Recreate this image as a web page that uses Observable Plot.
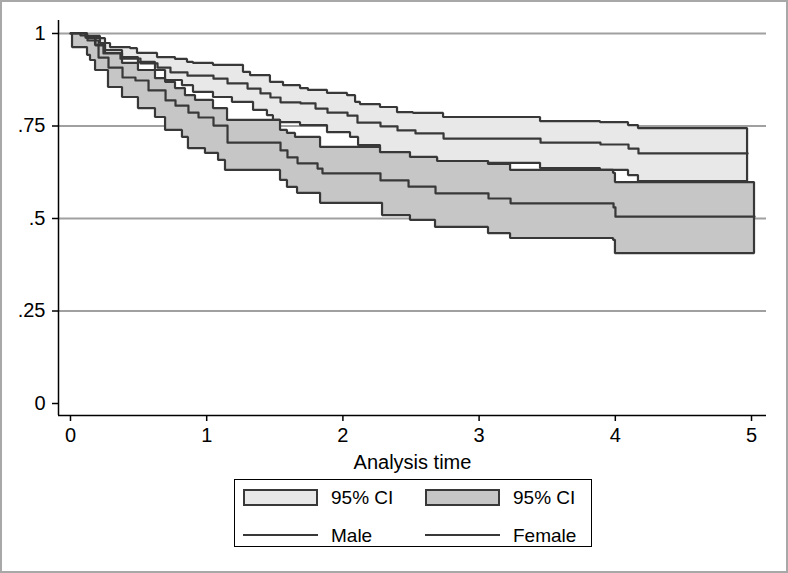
<!DOCTYPE html>
<html><head><meta charset="utf-8">
<script src="https://cdn.jsdelivr.net/npm/d3@7"></script>
<script src="https://cdn.jsdelivr.net/npm/@observablehq/plot@0.6"></script>
<style>
html,body{margin:0;padding:0;background:#fff;}
#wrap{position:relative;width:788px;height:573px;overflow:hidden;font-family:"Liberation Sans",Arial,sans-serif;background:#fff;color:#000;}
#chart{position:absolute;left:0;top:0;}
#border{position:absolute;left:0;top:0;width:788px;height:573px;box-sizing:border-box;border:2px solid #a8a8a8;pointer-events:none;}
#legend{position:absolute;left:234px;top:479px;width:358px;height:68px;box-sizing:border-box;border:1px solid #000;background:#fff;}
.sw{position:absolute;width:75px;height:17px;box-sizing:border-box;border:2px solid #383838;}
.ln{position:absolute;width:75px;height:2px;background:#383838;}
.lt{position:absolute;font-size:19px;line-height:19px;white-space:nowrap;}
</style></head>
<body>
<div id="wrap"><div id="chart"></div><div id="legend"></div><div id="border"></div></div>
<script>
// ---- Data ----
const xTicks = [0, 1, 2, 3, 4, 5];
const xTickLabels = ["0", "1", "2", "3", "4", "5"];
const yTicks = [0, 0.25, 0.5, 0.75, 1];
const yTickLabels = ["0", ".25", ".5", ".75", "1"];
const gridY = [0.25, 0.5, 0.75, 1];

// Male
const maleUpperT = [0,0.110,0.220,0.294,0.441,0.492,0.639,0.771,0.859,0.903,1.050,1.270,1.322,1.468,1.564,1.689,1.747,1.887,2.034,2.093,2.129,2.276,2.401,2.518,2.739,3.451,3.891,4.097,4.170,4.971];
const maleUpper  = [1,0.992,0.973,0.962,0.959,0.946,0.935,0.930,0.922,0.919,0.914,0.895,0.886,0.868,0.859,0.851,0.846,0.838,0.832,0.814,0.808,0.800,0.786,0.784,0.773,0.762,0.759,0.751,0.743,0.743];
const maleEstT = [0,0.110,0.184,0.242,0.367,0.514,0.639,0.734,0.859,1.050,1.153,1.300,1.395,1.468,1.542,1.689,1.799,1.887,2.034,2.107,2.276,2.401,2.533,2.739,3.451,3.891,4.097,4.170,4.971];
const maleEst  = [1,0.989,0.968,0.946,0.932,0.919,0.908,0.895,0.886,0.878,0.865,0.851,0.838,0.827,0.814,0.811,0.797,0.786,0.778,0.759,0.749,0.738,0.730,0.716,0.705,0.700,0.689,0.676,0.676];
const maleLowerT = [0,0.073,0.125,0.257,0.382,0.499,0.624,0.698,0.822,0.903,1.050,1.189,1.344,1.446,1.490,1.542,1.689,1.887,2.056,2.115,2.276,2.496,2.695,3.069,3.451,3.891,4.097,4.170,4.971];
const maleLower  = [1,0.995,0.986,0.954,0.935,0.922,0.900,0.873,0.859,0.841,0.827,0.814,0.792,0.778,0.765,0.759,0.751,0.732,0.719,0.697,0.678,0.662,0.654,0.649,0.635,0.630,0.616,0.600,0.600];

// Female
const femaleUpperT = [0,0.125,0.184,0.257,0.382,0.499,0.624,0.698,0.771,0.844,0.918,1.050,1.153,1.542,1.593,1.652,1.836,2.276,2.496,2.695,3.069,3.231,3.987,4.001,5.022];
const femaleUpper  = [1,0.986,0.968,0.946,0.919,0.900,0.878,0.868,0.851,0.832,0.819,0.797,0.765,0.738,0.730,0.719,0.692,0.678,0.665,0.654,0.646,0.630,0.622,0.597,0.597];
const femaleEstT = [0,0.073,0.125,0.206,0.279,0.382,0.477,0.573,0.698,0.771,0.866,0.940,1.050,1.153,1.542,1.593,1.667,1.814,1.850,2.276,2.482,2.680,3.069,3.231,3.987,4.001,5.022];
const femaleEst  = [1,0.995,0.981,0.935,0.908,0.881,0.873,0.846,0.819,0.805,0.786,0.773,0.751,0.705,0.684,0.665,0.649,0.635,0.622,0.603,0.586,0.568,0.554,0.541,0.530,0.505,0.505];
const femaleLowerT = [0,0.015,0.125,0.147,0.184,0.279,0.382,0.499,0.624,0.698,0.822,0.866,0.991,1.087,1.138,1.542,1.593,1.667,1.836,2.291,2.496,2.680,3.069,3.231,3.987,4.001,5.022];
const femaleLower  = [1,0.962,0.941,0.927,0.900,0.854,0.827,0.797,0.773,0.738,0.719,0.689,0.676,0.657,0.630,0.603,0.584,0.568,0.541,0.508,0.495,0.476,0.459,0.446,0.441,0.405,0.405];

const xLabel = "Analysis time";
const legendLabels = ["95% CI", "95% CI", "Male", "Female"];

// ---- helpers ----
function valAt(T, V, t) { let v = V[0]; for (let i = 0; i < T.length; i++) if (T[i] <= t + 1e-9) v = V[i]; return v; }
function band(loT, lo, hiT, hi) {
  const ts = Array.from(new Set([...loT, ...hiT])).sort((a, b) => a - b);
  return ts.map(t => ({t, lo: valAt(loT, lo, t), hi: valAt(hiT, hi, t)}));
}
const rows = (T, V) => T.map((t, i) => ({t, s: V[i]}));

const maleBand = band(maleLowerT, maleLower, maleUpperT, maleUpper);
const femaleBand = band(femaleLowerT, femaleLower, femaleUpperT, femaleUpper);

const xDom = [-0.088, 5.11];
const yDom = [-0.0324, 1.0351];
const lineColor = "#383838";
const lw = 2.2;

const chart = Plot.plot({
  width: 788, height: 475,
  marginLeft: 58, marginRight: 22, marginTop: 20, marginBottom: 60,
  x: {domain: xDom},
  y: {domain: yDom},
  style: {fontFamily: '"Liberation Sans", Arial, sans-serif', fontSize: "20px", color: "#000", background: "transparent"},
  marks: [
    Plot.ruleY(gridY, {stroke: "#a0a0a0", strokeWidth: 2}),
    Plot.areaY(maleBand, {x: "t", y1: "lo", y2: "hi", curve: "step-after", fill: "#e8e8e8", stroke: lineColor, strokeWidth: lw, strokeLinejoin: "miter"}),
    Plot.areaY(femaleBand, {x: "t", y1: "lo", y2: "hi", curve: "step-after", fill: "#c6c6c6", stroke: lineColor, strokeWidth: lw, strokeLinejoin: "miter"}),
    Plot.line(rows(maleEstT, maleEst), {x: "t", y: "s", curve: "step-after", stroke: lineColor, strokeWidth: lw}),
    Plot.line(rows(femaleEstT, femaleEst), {x: "t", y: "s", curve: "step-after", stroke: lineColor, strokeWidth: lw}),
    Plot.ruleX([xDom[0]], {stroke: "#000", strokeWidth: 1.5}),
    Plot.ruleY([yDom[0]], {stroke: "#000", strokeWidth: 1.5}),
    Plot.axisY({ticks: yTicks, tickFormat: d => yTickLabels[yTicks.indexOf(d)], tickSize: 6, tickPadding: 7, label: null, strokeWidth: 1.5, fontSize: 20}),
    Plot.axisX({ticks: xTicks, tickFormat: d => xTickLabels[xTicks.indexOf(d)], tickSize: 6, tickPadding: 6, strokeWidth: 1.5, fontSize: 20,
      label: xLabel, labelAnchor: "center", labelArrow: false, labelOffset: 53})
  ]
});
document.getElementById("chart").appendChild(chart);

// ---- legend ----
const lg = document.getElementById("legend");
function add(cls, css, text) { const e = document.createElement("div"); e.className = cls; Object.assign(e.style, css); if (text) e.textContent = text; lg.appendChild(e); }
add("sw", {left: "8px", top: "9px", background: "#e8e8e8"});
add("lt", {left: "96px", top: "8px"}, legendLabels[0]);
add("sw", {left: "190px", top: "9px", background: "#c6c6c6"});
add("lt", {left: "278px", top: "8px"}, legendLabels[1]);
add("ln", {left: "8px", top: "54px"});
add("lt", {left: "96px", top: "46px"}, legendLabels[2]);
add("ln", {left: "190px", top: "54px"});
add("lt", {left: "278px", top: "46px"}, legendLabels[3]);
</script>
</body></html>
